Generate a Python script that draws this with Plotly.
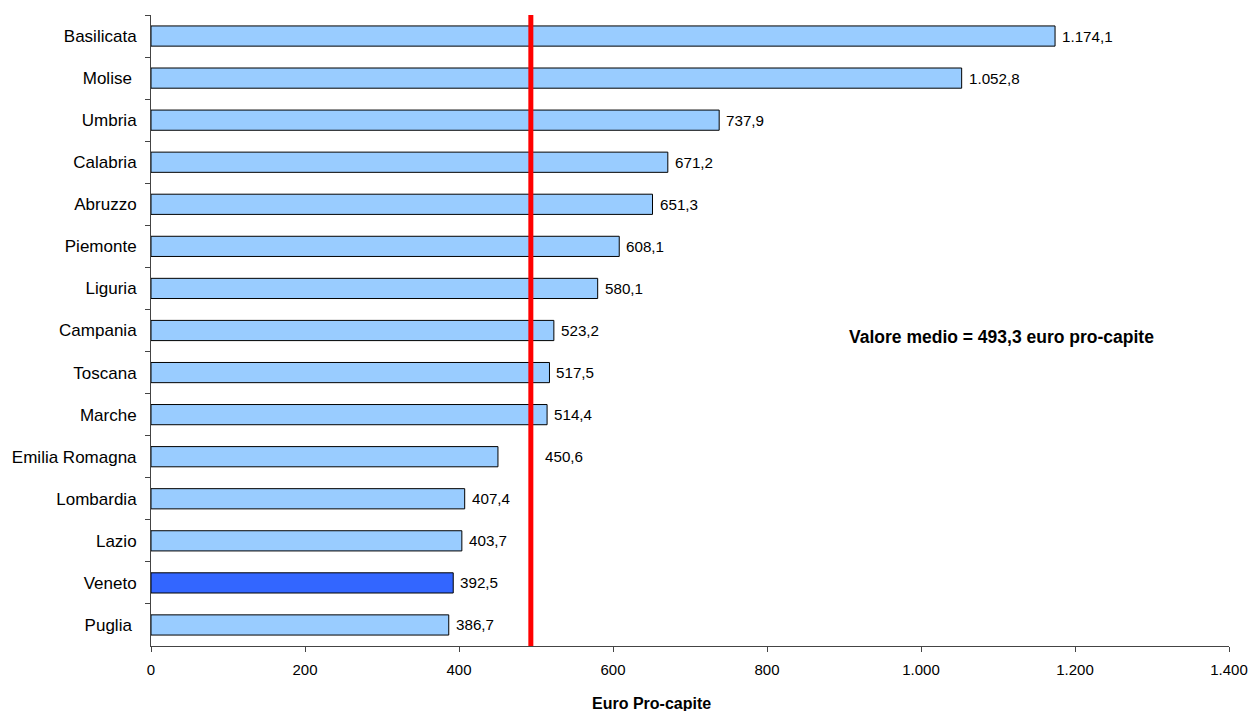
import plotly.graph_objects as go

regions = ["Basilicata", "Molise\u00a0", "Umbria", "Calabria", "Abruzzo", "Piemonte", "Liguria",
           "Campania", "Toscana", "Marche", "Emilia Romagna", "Lombardia", "Lazio", "Veneto", "Puglia\u00a0"]
values = [1174.1, 1052.8, 737.9, 671.2, 651.3, 608.1, 580.1, 523.2, 517.5, 514.4,
          450.6, 407.4, 403.7, 392.5, 386.7]
highlight = "Veneto"
mean_value = 493.3
x_ticks = [0, 200, 400, 600, 800, 1000, 1200, 1400]

LIGHT = "#99CCFF"
DARK = "#3366FF"
FONT = "Liberation Sans, Arial, sans-serif"


def it_fmt(v):
    s = f"{v:,.1f}"
    return s.replace(",", "X").replace(".", ",").replace("X", ".")


colors = [DARK if r == highlight else LIGHT for r in regions]

fig = go.Figure()
fig.add_trace(go.Bar(
    y=regions, x=values, orientation="h",
    marker=dict(color=colors, line=dict(color="black", width=1)),
    width=0.48, hoverinfo="x+y",
))

annotations = []
for r, v in zip(regions, values):
    if v < mean_value and v > mean_value - 60:
        ax, xs = mean_value, 12
    else:
        ax, xs = v, 5
    annotations.append(dict(x=ax, y=r, xref="x", yref="y", text=it_fmt(v),
                            showarrow=False, xanchor="left", xshift=xs,
                            font=dict(size=15.2, color="black", family=FONT)))

annotations.append(dict(x=0.6456, y=0.4897, xref="paper", yref="paper",
                        text="<b>Valore medio = " + it_fmt(mean_value) + " euro pro-capite</b>",
                        showarrow=False, xanchor="left", yanchor="middle",
                        font=dict(size=17.5, color="black", family=FONT)))
annotations.append(dict(x=0.464, y=0, xref="paper", yref="paper",
                        text="<b>Euro Pro-capite</b>", showarrow=False,
                        xanchor="center", yanchor="middle", yshift=-57,
                        font=dict(size=16, color="black", family=FONT)))

fig.add_shape(type="line", xref="x", yref="paper", x0=mean_value, x1=mean_value,
              y0=0, y1=1, line=dict(color="#FF0000", width=5))

# full-window figure; page body margin removed in the post script
fig.update_layout(
    width=1251, height=711,
    margin=dict(l=151, r=22, t=15, b=65),
    plot_bgcolor="white", paper_bgcolor="white",
    separators=",.",
    showlegend=False,
    annotations=annotations,
    font=dict(family=FONT, color="black"),
    xaxis=dict(range=[0, 1400], tickvals=x_ticks, separatethousands=True,
               automargin=False,
               showgrid=False, zeroline=False, showline=True, linecolor="#444",
               linewidth=1, ticks="outside", ticklen=5, tickcolor="#444",
               tickfont=dict(size=15, family=FONT, color="black"),
               ticklabelstandoff=5),
    yaxis=dict(autorange="reversed", automargin=False,
               showgrid=False, zeroline=False, showline=True,
               linecolor="#444", linewidth=1, ticks="outside", ticklen=5,
               tickcolor="#444", tickson="boundaries",
               tickfont=dict(size=17, family=FONT, color="black"),
               ticklabelstandoff=10),
)

fig.write_html("out.html",
               config={"displayModeBar": False},
               post_script="document.body.style.margin='0';"
                           "document.body.style.overflow='hidden';"
                           "document.documentElement.style.overflow='hidden';")
